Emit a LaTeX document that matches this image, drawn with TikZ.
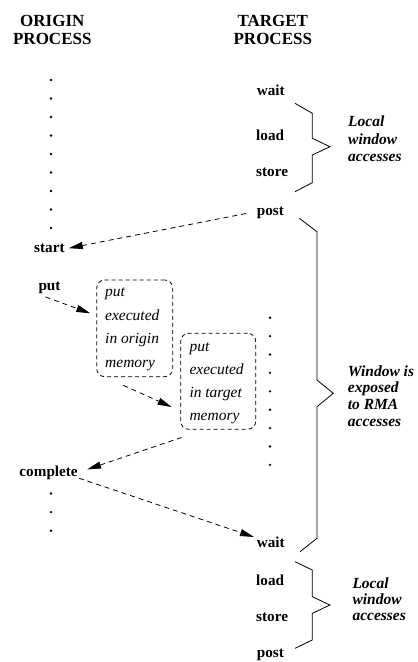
\documentclass[tikz,border=0pt]{standalone}
\usepackage{fontspec}
\setmainfont{Liberation Serif}
\usetikzlibrary{arrows.meta,calc}
\begin{document}
\begin{tikzpicture}[x=1pt,y=-1pt,
  lbl/.style={inner sep=0pt,anchor=base west,font=\fontsize{15.2}{17}\selectfont\rmfamily\bfseries,text height=10pt,text depth=3pt},
  hdr/.style={inner sep=0pt,anchor=base,font=\fontsize{17}{18}\selectfont\rmfamily\bfseries},
  note/.style={inner sep=0pt,anchor=base west,font=\fontsize{15.5}{#1}\selectfont\rmfamily\bfseries\itshape},
  ital/.style={inner sep=0pt,anchor=base west,font=\fontsize{15.5}{#1}\selectfont\rmfamily\itshape},
  dbox/.style={draw,dash pattern=on 4pt off 3pt,rounded corners=8pt,line width=0.8pt,inner sep=0pt},
  msg/.style={draw,dash pattern=on 5pt off 4pt,line width=0.8pt,-{Triangle[length=14pt,width=7pt]}},
  brace/.style={draw,line width=0.8pt},
  dot/.style={circle,fill,inner sep=0pt,minimum size=2.6pt}
]
\useasboundingbox (0,0) rectangle (418,662);

% headers
\node[hdr] (h1a) at (52.3,26) {ORIGIN};
\node[hdr] (h1b) at (52.3,44) {PROCESS};
\node[hdr] (h2a) at (272.8,26) {TARGET};
\node[hdr] (h2b) at (272.8,44) {PROCESS};

% origin labels
\node[lbl] (start) at (34,252.7) {start};
\node[lbl] (put) at (38.3,290.7) {put};
\node[lbl] (complete) at (19.3,476.7) {complete};

% target labels
\node[lbl] (wait1) at (256.7,95) {wait};
\node[lbl] (load1) at (256,140.7) {load};
\node[lbl] (store1) at (256,176.7) {store};
\node[lbl] (post1) at (256.7,215) {post};
\node[lbl] (wait2) at (256.7,547.7) {wait};
\node[lbl] (load2) at (256,585) {load};
\node[lbl] (store2) at (256,621.7) {store};
\node[lbl] (post2) at (256.7,657.3) {post};

% dots
\foreach \k in {0,...,8} \node[dot] (oa\k) at (51,80+18.5*\k) {};
\foreach \k in {0,1,2} \node[dot] (ob\k) at (51,493.5+18.6*\k) {};
\foreach \k in {0,...,8} \node[dot] (ta\k) at (270,317.7+18.4*\k) {};

% boxes
\node[dbox,minimum width=76pt,minimum height=96.7pt] (box1) at (134.7,328.3) {};
\node[dbox,minimum width=75pt,minimum height=96pt] (box2) at (218.2,381.3) {};
\node[ital=23.5] (t1) at (105,296.7) {\begin{tabular}[t]{@{}l@{}}put\\executed\\in origin\\memory\end{tabular}};
\node[ital=23.3] (t2) at (189.3,351) {\begin{tabular}[t]{@{}l@{}}put\\executed\\in target\\memory\end{tabular}};

% notes
\node[note=17.8] (n1) at (348,126.3) {\begin{tabular}[t]{@{}l@{}}Local\\window\\accesses\end{tabular}};
\node[note=16.6] (n2) at (347.7,376.3) {\begin{tabular}[t]{@{}l@{}}Window is\\exposed\\to RMA\\accesses\end{tabular}};
\node[note=16] (n3) at (352.3,588.3) {\begin{tabular}[t]{@{}l@{}}Local\\window\\accesses\end{tabular}};

% braces
\draw[brace] (295,103.3) -- (312.3,113.3) -- (312.3,138.3) -- (330,146.7) -- (312.3,155) -- (312.3,182.7) -- (295,191.7);
\draw[brace] (299.3,218.3) -- (317,231.7) -- (317,380) -- (333.3,393.3) -- (317,406.7) -- (317,538.3) -- (300,551.7);
\draw[brace] (295,561.7) -- (312.3,570) -- (312.3,596.7) -- (330,605) -- (312.3,613.3) -- (312.3,640) -- (295,648.3);

% messages
\draw[msg] ($(post1.west)+(-10.7,2)$) -- ($(start.east)+(4,-1)$);
\draw[msg] ($(put.south)+(-4,3)$) -- ($(box1.west)+(-6,-15)$);
\draw[msg] ($(box1.south)+(-11.4,8.3)$) -- ($(box2.west)+(-8.7,25.7)$);
\draw[msg] ($(box2.south west)+(1.3,7.7)$) -- ($(complete.east)+(9.2,-3.7)$);
\draw[msg] ($(complete.east)+(1,5)$) -- ($(wait2.west)+(-2.7,-7.2)$);
\end{tikzpicture}
\end{document}
